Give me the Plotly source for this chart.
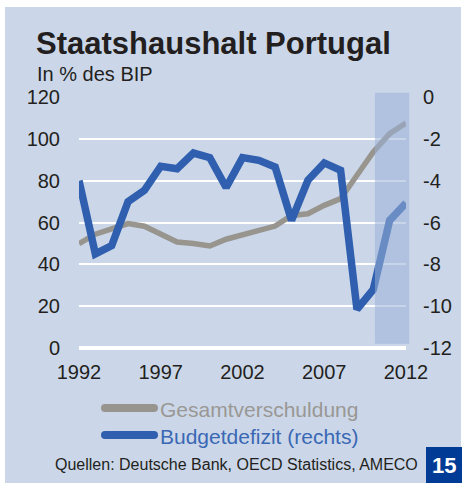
import plotly.graph_objects as go

years = list(range(1992, 2013))
gesamtverschuldung = [49.9, 54.4, 57.0, 59.5, 58.2, 54.4, 50.7, 50.0, 48.8, 52.0, 54.3,
                      56.3, 58.3, 63.4, 64.2, 68.2, 71.4, 82.6, 93.7, 102.5, 107.6]
budgetdefizit = [-4.0, -7.5, -7.1, -5.0, -4.46, -3.31, -3.43, -2.68, -2.9, -4.33, -2.9,
                 -3.03, -3.35, -5.9, -3.98, -3.15, -3.5, -10.15, -9.2, -5.9, -5.07]
x_ticks = [1992, 1997, 2002, 2007, 2012]
left_ticks = [0, 20, 40, 60, 80, 100, 120]
right_ticks = [0, -2, -4, -6, -8, -10, -12]
right_ticktext = ["0", "-2", "-4", "-6", "-8", "-10", "-12"]
forecast_years = [2010.1, 2012.2]

W, H = 463, 484
L, R, T, B = 79, 57, 97, 136
PW, PH = W - L - R, H - T - B

def px(x):
    return (x - L) / PW

def py(y):
    return (T + PH - y) / PH

FONT = "Liberation Sans, Arial, sans-serif"
TXT = "#231f20"
BG = "#cbd7e9"
GRAY = "#98958f"
BLUE = "#2f5fae"

fig = go.Figure()
fig.add_trace(go.Scatter(x=years, y=gesamtverschuldung, mode="lines",
                         line=dict(color=GRAY, width=5.5), name="Gesamtverschuldung",
                         showlegend=False))
fig.add_trace(go.Scatter(x=years, y=budgetdefizit, mode="lines", yaxis="y2",
                         line=dict(color=BLUE, width=7.5), name="Budgetdefizit (rechts)",
                         showlegend=False))

shapes = []
# background panel
shapes.append(dict(type="rect", xref="paper", yref="paper", layer="below",
                   x0=px(5), x1=px(461), y0=py(483), y1=py(7),
                   fillcolor=BG, line=dict(width=0)))
# forecast shading
x0 = (forecast_years[0] - years[0]) / (years[-1] - years[0])
x1 = (forecast_years[1] - years[0]) / (years[-1] - years[0])
shapes.append(dict(type="rect", xref="paper", yref="paper", layer="above",
                   x0=x0, x1=x1, y0=2 / 120, y1=122 / 120,
                   fillcolor="rgba(154,176,215,0.55)", line=dict(width=0)))
# legend symbols
for yc, col in [(408, GRAY), (435, BLUE)]:
    shapes.append(dict(type="rect", xref="paper", yref="paper", layer="above",
                       x0=px(105), x1=px(154), y0=py(yc + 4), y1=py(yc - 4),
                       fillcolor=col, line=dict(width=0)))
    for cx in (105, 154):
        shapes.append(dict(type="circle", xref="paper", yref="paper", layer="above",
                           x0=px(cx - 4), x1=px(cx + 4), y0=py(yc + 4), y1=py(yc - 4),
                           fillcolor=col, line=dict(width=0)))
# number box
shapes.append(dict(type="rect", xref="paper", yref="paper", layer="above",
                   x0=px(426), x1=px(462), y0=py(483), y1=py(447),
                   fillcolor="#003b95", line=dict(width=0)))

annotations = [
    dict(text="<b>Staatshaushalt Portugal</b>", x=px(34), y=py(44), xanchor="left",
         yanchor="middle", font=dict(family=FONT, size=31, color=TXT)),
    dict(text="In % des BIP", x=px(35), y=py(74), xanchor="left", yanchor="middle",
         font=dict(family=FONT, size=20, color=TXT)),
    dict(text="Gesamtverschuldung", x=px(158), y=py(409), xanchor="left", yanchor="middle",
         font=dict(family=FONT, size=21, color="#9a9794")),
    dict(text="Budgetdefizit (rechts)", x=px(158), y=py(436), xanchor="left",
         yanchor="middle", font=dict(family=FONT, size=21, color="#3a68b4")),
    dict(text="Quellen: Deutsche Bank, OECD Statistics, AMECO", x=px(53), y=py(464),
         xanchor="left", yanchor="middle", font=dict(family=FONT, size=16, color=TXT)),
    dict(text="<b>15</b>", x=px(444), y=py(465), xanchor="center", yanchor="middle",
         font=dict(family=FONT, size=22, color="white")),
]
for a in annotations:
    a.update(xref="paper", yref="paper", showarrow=False)

fig.update_layout(
    width=W, height=H,
    margin=dict(l=L, r=R, t=T, b=B, pad=0),
    paper_bgcolor="white", plot_bgcolor="rgba(0,0,0,0)",
    showlegend=False,
    font=dict(family=FONT, color=TXT, size=20),
    xaxis=dict(range=[years[0], years[-1]], tickvals=x_ticks, showgrid=False,
               zeroline=False, showline=False, ticks="", ticklabelstandoff=10,
               tickfont=dict(size=20, color=TXT)),
    yaxis=dict(range=[0, 120], tickvals=left_ticks, showgrid=True, gridcolor="white",
               gridwidth=2, zeroline=True, zerolinecolor="white", zerolinewidth=4,
               showline=False, ticks="", ticklabelstandoff=18,
               tickfont=dict(size=20, color=TXT)),
    yaxis2=dict(range=[-12, 0], overlaying="y", side="right", tickvals=right_ticks,
                ticktext=right_ticktext, showgrid=False, zeroline=False, showline=False,
                ticks="", ticklabelstandoff=16, tickfont=dict(size=20, color=TXT)),
    shapes=shapes,
    annotations=annotations,
)

fig.write_html("out.html", config={"displayModeBar": False},
               post_script="document.body.style.margin='0';document.body.style.overflow='hidden';")
